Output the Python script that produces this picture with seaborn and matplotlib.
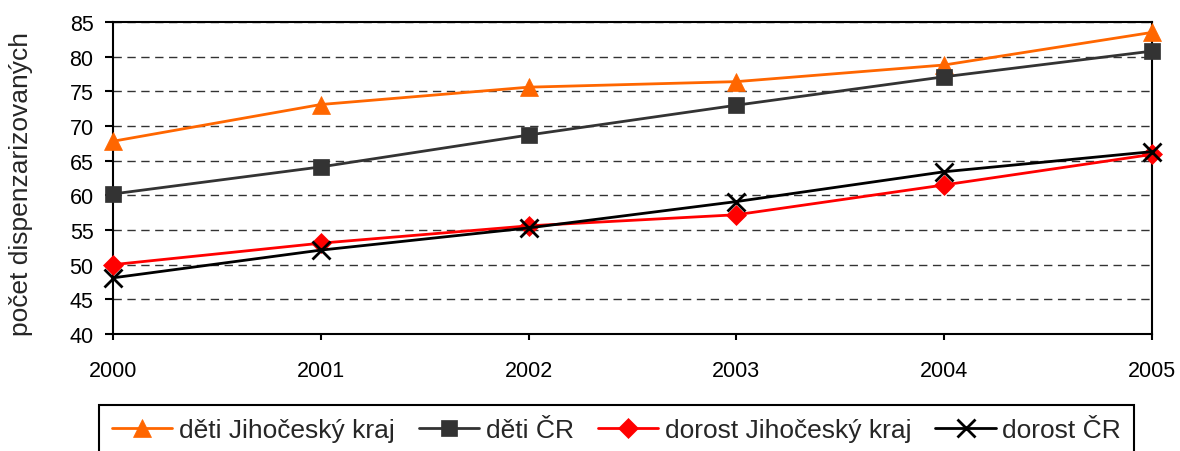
import matplotlib
matplotlib.use("Agg")
import matplotlib.pyplot as plt
import seaborn as sns
import pandas as pd

years = [2000, 2001, 2002, 2003, 2004, 2005]
deti_jc = [67.8, 73.1, 75.6, 76.4, 78.8, 83.5]
deti_cr = [60.2, 64.1, 68.7, 73.0, 77.1, 80.8]
dorost_jc = [50.0, 53.1, 55.6, 57.2, 61.5, 65.9]
dorost_cr = [48.1, 52.1, 55.3, 59.1, 63.4, 66.3]
labels = ["děti Jihočeský kraj", "děti ČR", "dorost Jihočeský kraj", "dorost ČR"]
ylabel = "počet dispenzarizovaných"

sns.set_theme(style="white")
plt.rcParams["font.family"] = ["Liberation Sans", "DejaVu Sans"]

fig = plt.figure(figsize=(11.8, 4.52), dpi=100)
ax = fig.add_axes([113 / 1180, 1 - 335 / 452, (1152 - 113) / 1180, (335 - 23) / 452])

series = [deti_jc, deti_cr, dorost_jc, dorost_cr]
colors = ["#FF6600", "#333333", "#FF0000", "#000000"]
markers = ["^", "s", "D", "x"]
msizes = [13, 11, 10, 13]

for vals, lab, c, m, ms in zip(series, labels, colors, markers, msizes):
    df = pd.DataFrame({"rok": years, "hodnota": vals})
    sns.lineplot(data=df, x="rok", y="hodnota", ax=ax, color=c, marker=m,
                 markersize=ms, linewidth=2, label=lab,
                 markeredgecolor=c, markeredgewidth=2 if m == "x" else 0.5,
                 clip_on=False, zorder=3)

ax.set_xlim(2000, 2005)
ax.set_ylim(40, 85)
ax.set_xticks(years)
ax.set_xticklabels([str(y) for y in years])
ax.set_yticks(range(40, 90, 5))
ax.set_xlabel("")
ax.set_ylabel(ylabel, fontsize=19)
ax.yaxis.set_label_coords(-0.077, 0.485)
ax.yaxis.grid(True, linestyle=(0, (6, 4)), color="#333333", linewidth=1)
ax.xaxis.grid(False)
for s in ax.spines.values():
    s.set_color("black")
    s.set_linewidth(1.5)
ax.tick_params(axis="both", labelsize=15.5, colors="black", direction="out",
               width=1.5, left=True, bottom=True)
ax.tick_params(axis="y", length=6, pad=8)
ax.tick_params(axis="x", length=4, pad=15)

ax.get_legend().remove()
handles, labs = ax.get_legend_handles_labels()
leg = fig.legend(handles, labs, loc="upper center",
                 bbox_to_anchor=(616.5 / 1180, 1 - 406 / 452),
                 ncol=4, fontsize=19, frameon=True, fancybox=False,
                 framealpha=1, edgecolor="black", handlelength=2.3,
                 handletextpad=0.25, columnspacing=0.9, borderpad=0.5,
                 borderaxespad=0)
leg.get_frame().set_linewidth(1.5)

fig.savefig("out.png", dpi=100)
